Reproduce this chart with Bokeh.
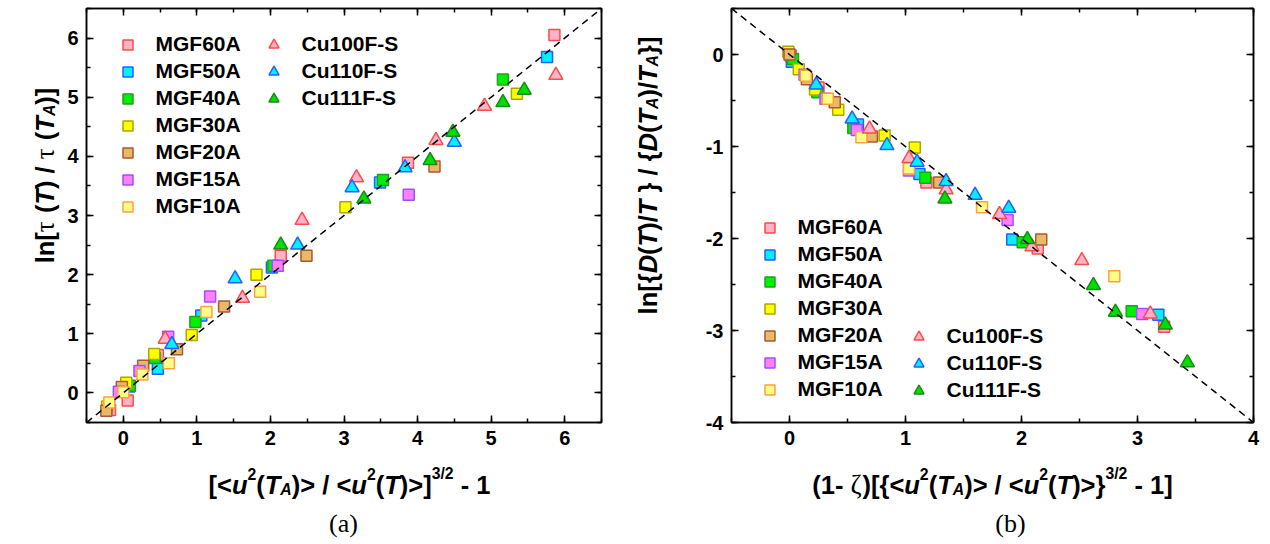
import math
from bokeh.plotting import figure
from bokeh.models import (Range1d, LinearAxis, SingleIntervalTicker, Legend,
                          LegendItem, Label, PrintfTickFormatter, CustomJSTickFormatter)
from bokeh.layouts import row, column
from bokeh.embed import file_html
from bokeh.resources import INLINE

# ---------------- data: panel (a) ----------------
a_mgf60_x = [5.86, 3.87, 2.14, 0.47, 0.06, -0.18]
a_mgf60_y = [6.05, 3.89, 2.32, 0.64, -0.13, -0.29]
a_mgf50_x = [5.76, 3.49, 2.02, 1.06, 0.47, 0.08]
a_mgf50_y = [5.68, 3.56, 2.12, 1.31, 0.41, 0.11]
a_mgf40_x = [5.16, 3.53, 2.04, 0.98, 0.43, 0.09]
a_mgf40_y = [5.30, 3.60, 2.15, 1.20, 0.59, 0.12]
a_mgf30_x = [5.35, 3.02, 1.81, 0.93, 0.42, 0.04, -0.22]
a_mgf30_y = [5.06, 3.14, 2.00, 0.98, 0.66, 0.17, -0.23]
a_mgf20_x = [4.23, 2.49, 1.37, 0.73, 0.27, -0.02, -0.23]
a_mgf20_y = [3.83, 2.32, 1.46, 0.74, 0.46, 0.10, -0.30]
a_mgf15_x = [3.88, 2.10, 1.18, 0.61, 0.22, -0.06]
a_mgf15_y = [3.35, 2.15, 1.63, 0.95, 0.37, 0.02]
a_mgf10_x = [1.86, 1.13, 0.62, 0.26, 0.00, -0.19]
a_mgf10_y = [1.71, 1.37, 0.50, 0.31, 0.01, -0.16]
a_cu100_x = [5.88, 4.91, 4.25, 3.17, 2.43, 1.62, 0.57]
a_cu100_y = [5.37, 4.85, 4.27, 3.64, 2.92, 1.60, 0.91]
a_cu110_x = [4.50, 3.83, 3.11, 2.37, 1.52, 0.66]
a_cu110_y = [4.24, 3.81, 3.47, 2.50, 1.93, 0.82]
a_cu111_x = [5.45, 5.16, 4.48, 4.17, 3.27, 2.14]
a_cu111_y = [5.12, 4.91, 4.41, 3.93, 3.28, 2.50]
a_diag_x = [-0.5, 6.5]
a_diag_y = [-0.5, 6.5]

# ---------------- data: panel (b) ----------------
b_mgf60_x = [0.01, 0.25, 1.18, 2.14, 3.23]
b_mgf60_y = [-0.01, -0.36, -1.39, -2.11, -2.96]
b_mgf50_x = [0.02, 0.59, 1.12, 1.92, 3.18]
b_mgf50_y = [-0.08, -0.76, -1.30, -2.01, -2.83]
b_mgf40_x = [0.03, 0.24, 0.55, 1.17, 2.01, 2.95]
b_mgf40_y = [-0.05, -0.41, -0.80, -1.34, -2.04, -2.79]
b_mgf30_x = [-0.01, 0.08, 0.22, 0.42, 0.82, 1.08]
b_mgf30_y = [0.03, -0.16, -0.38, -0.60, -0.88, -1.01]
b_mgf20_x = [0.00, 0.15, 0.39, 0.71, 1.29, 2.17]
b_mgf20_y = [0.00, -0.27, -0.52, -0.89, -1.39, -2.01]
b_mgf15_x = [0.13, 0.31, 0.58, 1.03, 1.88, 3.04]
b_mgf15_y = [-0.22, -0.48, -0.82, -1.26, -1.80, -2.82]
b_mgf10_x = [0.14, 0.33, 0.62, 1.03, 1.66, 2.80]
b_mgf10_y = [-0.23, -0.48, -0.90, -1.24, -1.66, -2.41]
b_cu100_x = [0.69, 1.03, 1.35, 1.81, 2.09, 2.52, 3.11]
b_cu100_y = [-0.81, -1.13, -1.47, -1.74, -2.09, -2.24, -2.82]
b_cu110_x = [0.23, 0.54, 0.84, 1.10, 1.35, 1.60, 1.89]
b_cu110_y = [-0.33, -0.70, -0.99, -1.17, -1.38, -1.53, -1.67]
b_cu111_x = [1.34, 2.05, 2.62, 2.81, 3.24, 3.43]
b_cu111_y = [-1.57, -2.01, -2.51, -2.80, -2.94, -3.35]
b_diag_x = [-0.5, 4.0]
b_diag_y = [0.5, -4.0]

square_names = ["MGF60A", "MGF50A", "MGF40A", "MGF30A", "MGF20A", "MGF15A", "MGF10A"]
triangle_names = ["Cu100F-S", "Cu110F-S", "Cu111F-S"]

STYLE = {
    "MGF60A": ("#FFB3C8", "#FF4A4A"),
    "MGF50A": ("#00F0FF", "#2A5CFF"),
    "MGF40A": ("#00F000", "#22A022"),
    "MGF30A": ("#FFFF00", "#A8A800"),
    "MGF20A": ("#E8BA68", "#A85A30"),
    "MGF15A": ("#FF80FF", "#A050FF"),
    "MGF10A": ("#FFFF88", "#FFA040"),
    "Cu100F-S": ("#FFB3C8", "#FF4A4A"),
    "Cu110F-S": ("#00F0FF", "#2A5CFF"),
    "Cu111F-S": ("#00E000", "#1A8A1A"),
}

FONT = "Liberation Sans"
SERIF = "Liberation Serif"
TITLE_SIZE = 25.5

W = {' ': 278, '(': 333, ')': 333, '-': 333, '/': 278, '0': 556, '1': 556,
     '2': 556, '3': 556, '<': 584, '>': 584, 'A': 722, 'D': 722, 'T': 611,
     '[': 333, ']': 333, 'l': 278, 'n': 611, 'u': 611, '{': 389, '}': 389}
GREEK_W = 470


def piece_scale(kind, size):
    return size * (0.62 if kind in ("sup", "subi") else 1.0)


def piece_width(text, kind, size):
    if kind == "g":
        return GREEK_W * size / 1000.0 * len(text)
    return sum(W.get(c, 556) for c in text) * piece_scale(kind, size) / 1000.0


def compose(p, pieces, center, base, size, vertical=False):
    total = sum(piece_width(t, k, size) for t, k in pieces)
    pos = center - total / 2.0
    for t, k in pieces:
        fs = size
        style = "bold"
        font = FONT
        shift = 0.0
        if k == "i":
            style = "bold italic"
        elif k == "sup":
            fs = size * 0.62
            shift = size * 0.42
        elif k == "subi":
            fs = size * 0.62
            shift = -size * 0.18
            style = "bold italic"
        elif k == "g":
            font = SERIF
            style = "normal"
            fs = size * 1.05
        # leading/trailing blanks collapse in svg text: advance explicitly
        lead = len(t) - len(t.lstrip(" "))
        body = t.strip(" ")
        start = pos + lead * W[' '] * piece_scale(k, size) / 1000.0
        if body:
            if vertical:
                lab = Label(x=base - shift, y=start, x_units="screen", y_units="screen",
                            text=body, angle=math.pi / 2, text_font=font,
                            text_font_size=f"{fs:.1f}px", text_font_style=style,
                            text_align="left", text_baseline="alphabetic",
                            text_color="black")
            else:
                lab = Label(x=start, y=base + shift, x_units="screen", y_units="screen",
                            text=body, text_font=font,
                            text_font_size=f"{fs:.1f}px", text_font_style=style,
                            text_align="left", text_baseline="alphabetic",
                            text_color="black")
            p.add_layout(lab)
        pos += piece_width(t, k, size)


def blank_fig(w, h):
    f = figure(width=w, height=h, output_backend="svg", toolbar_location=None,
               x_range=Range1d(0, w), y_range=Range1d(0, h), min_border=0,
               x_axis_location=None, y_axis_location=None)
    f.xgrid.visible = False
    f.ygrid.visible = False
    f.outline_line_color = None
    f.background_fill_color = "white"
    f.border_fill_color = "white"
    return f


def style_axis(ax, show_labels=True):
    ax.ticker = SingleIntervalTicker(interval=1, num_minor_ticks=2)
    ax.axis_line_color = "black"
    ax.axis_line_width = 1.5
    ax.major_tick_line_color = "black"
    ax.major_tick_line_width = 1.5
    ax.minor_tick_line_color = "black"
    ax.minor_tick_line_width = 1.5
    ax.major_tick_in = 7
    ax.major_tick_out = 0
    ax.minor_tick_in = 4
    ax.minor_tick_out = 0
    if show_labels:
        ax.formatter = PrintfTickFormatter(format="%d")
        ax.major_label_text_font = FONT
        ax.major_label_text_font_style = "bold"
        ax.major_label_text_font_size = "20px"
        ax.major_label_text_color = "black"
        ax.major_label_standoff = 8
    else:
        ax.formatter = CustomJSTickFormatter(code="return ''")
        ax.major_label_standoff = 0


def make_panel(width, xr, yr, borders, data, diag):
    lb, rb = borders
    p = figure(width=width, height=462, output_backend="svg", toolbar_location=None,
               x_range=Range1d(*xr), y_range=Range1d(*yr),
               min_border_left=lb, min_border_right=rb, min_border_top=8,
               min_border_bottom=40, x_axis_location=None, y_axis_location=None)
    p.xgrid.visible = False
    p.ygrid.visible = False
    p.outline_line_color = "black"
    p.outline_line_width = 1.5
    p.background_fill_color = "white"
    p.border_fill_color = "white"

    for loc, show in (("below", True), ("above", False), ("left", True), ("right", False)):
        ax = LinearAxis()
        style_axis(ax, show)
        p.add_layout(ax, loc)

    rends = {}
    for name in square_names:
        xs, ys = data[name]
        fill, line = STYLE[name]
        rends[name] = p.scatter(xs, ys, marker="square", size=11, fill_color=fill,
                                line_color=line, line_width=1.5)
    for name in triangle_names:
        xs, ys = data[name]
        fill, line = STYLE[name]
        rends[name] = p.scatter(xs, ys, marker="triangle", size=14, fill_color=fill,
                                line_color=line, line_width=1.5)
    p.line(diag[0], diag[1], line_color="black", line_width=1.5, line_dash="7 5")
    return p, rends


def add_legend(p, rends, names, loc):
    leg = Legend(items=[LegendItem(label=n, renderers=[rends[n]]) for n in names],
                 location=loc, orientation="vertical", padding=0, margin=0,
                 spacing=2, glyph_width=25, glyph_height=25, label_height=25,
                 label_standoff=16, border_line_color=None,
                 background_fill_alpha=0, label_text_font=FONT,
                 label_text_font_style="bold", label_text_font_size="21px",
                 label_text_color="black")
    p.add_layout(leg)


data_a = {
    "MGF60A": (a_mgf60_x, a_mgf60_y), "MGF50A": (a_mgf50_x, a_mgf50_y),
    "MGF40A": (a_mgf40_x, a_mgf40_y), "MGF30A": (a_mgf30_x, a_mgf30_y),
    "MGF20A": (a_mgf20_x, a_mgf20_y), "MGF15A": (a_mgf15_x, a_mgf15_y),
    "MGF10A": (a_mgf10_x, a_mgf10_y), "Cu100F-S": (a_cu100_x, a_cu100_y),
    "Cu110F-S": (a_cu110_x, a_cu110_y), "Cu111F-S": (a_cu111_x, a_cu111_y),
}
data_b = {
    "MGF60A": (b_mgf60_x, b_mgf60_y), "MGF50A": (b_mgf50_x, b_mgf50_y),
    "MGF40A": (b_mgf40_x, b_mgf40_y), "MGF30A": (b_mgf30_x, b_mgf30_y),
    "MGF20A": (b_mgf20_x, b_mgf20_y), "MGF15A": (b_mgf15_x, b_mgf15_y),
    "MGF10A": (b_mgf10_x, b_mgf10_y), "Cu100F-S": (b_cu100_x, b_cu100_y),
    "Cu110F-S": (b_cu110_x, b_cu110_y), "Cu111F-S": (b_cu111_x, b_cu111_y),
}

# ---------------- panel (a) ----------------
pa, ra = make_panel(560, (-0.5, 6.5), (-0.5, 6.5), (26, 19), data_a, (a_diag_x, a_diag_y))
add_legend(pa, ra, square_names, (28.5, 203.5))
add_legend(pa, ra, triangle_names, (174.5, 311.5))

ya = blank_fig(60, 462)
compose(ya, [("ln[", "n"), ("τ", "g"), (" (", "n"), ("T", "i"), (") / ", "n"),
             ("τ", "g"), (" (", "n"), ("T", "i"), ("A", "subi"), (")]", "n")],
        center=247, base=44, size=TITLE_SIZE, vertical=True)

xa = blank_fig(620, 82)
compose(xa, [("[<", "n"), ("u", "i"), ("2", "sup"), ("(", "n"), ("T", "i"), ("A", "subi"),
             (")> / <", "n"), ("u", "i"), ("2", "sup"), ("(", "n"), ("T", "i"),
             (")>]", "n"), ("3/2", "sup"), (" - 1", "n")],
        center=349, base=60, size=TITLE_SIZE)
xa.add_layout(Label(x=343, y=21, x_units="screen", y_units="screen", text="(a)",
                    text_font=SERIF, text_font_size="26px", text_align="center",
                    text_baseline="alphabetic", text_color="black"))

# ---------------- panel (b) ----------------
pb, rb_ = make_panel(590, (-0.5, 4.0), (-4.0, 0.5), (51, 17), data_b, (b_diag_x, b_diag_y))
add_legend(pb, rb_, square_names, (25.5, 20.5))
add_legend(pb, rb_, triangle_names, (174.5, 19.5))

yb = blank_fig(60, 462)
compose(yb, [("ln[{", "n"), ("D", "i"), ("(", "n"), ("T", "i"), (")/", "n"), ("T", "i"),
             (" } / {", "n"), ("D", "i"), ("(", "n"), ("T", "i"), ("A", "subi"),
             (")/", "n"), ("T", "i"), ("A", "subi"), ("}]", "n")],
        center=247, base=27, size=TITLE_SIZE, vertical=True)

xb = blank_fig(650, 82)
compose(xb, [("(1- ", "n"), ("ζ", "g"), (")[{<", "n"), ("u", "i"), ("2", "sup"),
             ("(", "n"), ("T", "i"), ("A", "subi"), (")> / <", "n"), ("u", "i"),
             ("2", "sup"), ("(", "n"), ("T", "i"), (")>}", "n"), ("3/2", "sup"),
             (" - 1]", "n")],
        center=372, base=60, size=TITLE_SIZE)
xb.add_layout(Label(x=390, y=21, x_units="screen", y_units="screen", text="(b)",
                    text_font=SERIF, text_font_size="26px", text_align="center",
                    text_baseline="alphabetic", text_color="black"))

layout = row(column(row(ya, pa), xa), column(row(yb, pb), xb))
open("out.html", "w").write(file_html(layout, INLINE))
